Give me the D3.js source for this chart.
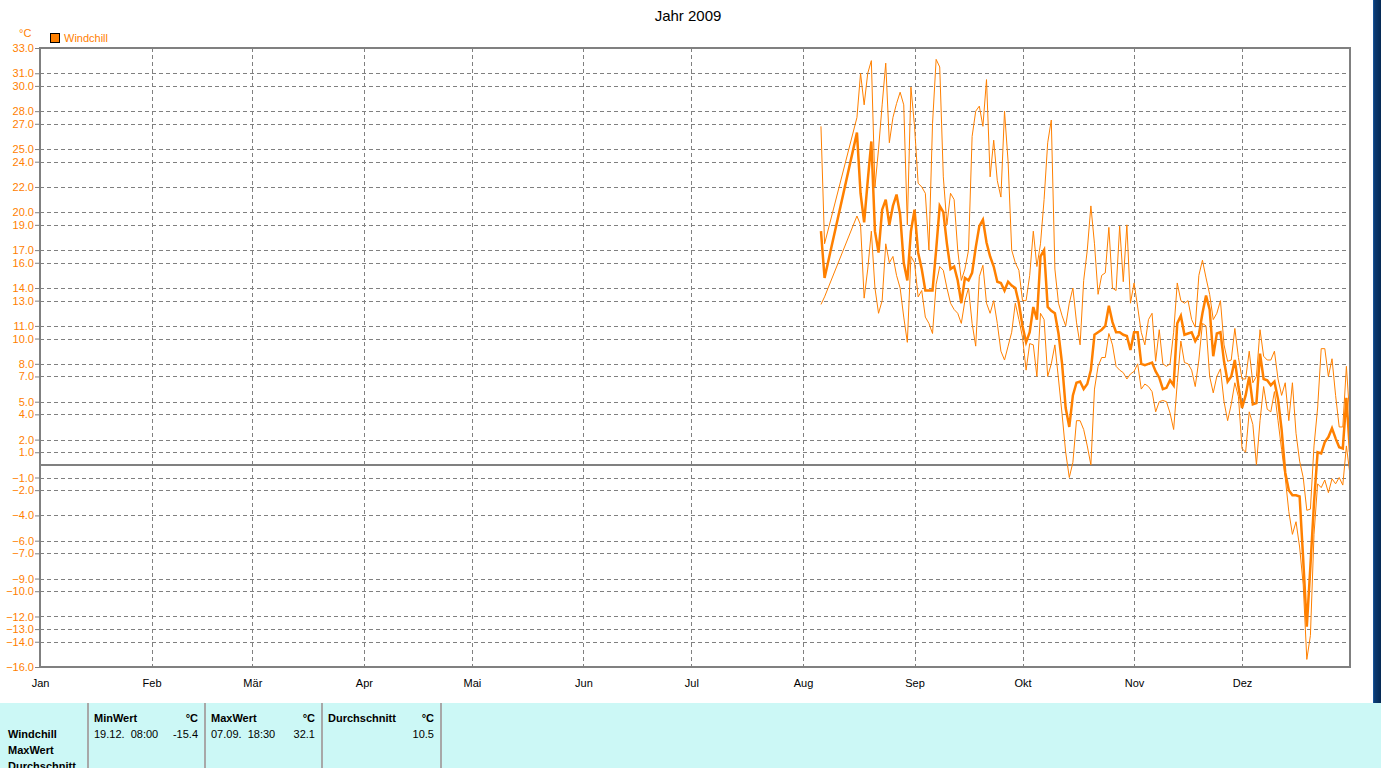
<!DOCTYPE html>
<html><head><meta charset="utf-8">
<script src="https://cdn.jsdelivr.net/npm/d3@7"></script>
<style>
html,body{margin:0;padding:0;background:#fff;}
svg{display:block;font-family:"Liberation Sans",Arial,sans-serif;}
</style></head>
<body>
<svg id="c" width="1381" height="768"></svg>
<script>
// ---------------- data ----------------
const title = "Jahr 2009";
const seriesName = "Windchill";
const unit = "°C";
const monthLabels = ["Jan","Feb","Mär","Apr","Mai","Jun","Jul","Aug","Sep","Okt","Nov","Dez"];
const yTickValues = [33,31,30,28,27,25,24,22,20,19,17,16,14,13,11,10,8,7,5,4,2,1,-1,-2,-4,-6,-7,-9,-10,-12,-13,-14,-16];

const dates = [
 "08-06","08-07","08-16","08-17","08-18","08-19","08-20","08-21","08-22","08-23","08-24","08-25","08-26","08-27","08-28","08-29","08-30","08-31",
 "09-01","09-02","09-03","09-04","09-05","09-06","09-07","09-08","09-09","09-10","09-11","09-12","09-13","09-14","09-15","09-16","09-17","09-18","09-19","09-20","09-21","09-22","09-23","09-24","09-25","09-26","09-27","09-28","09-29","09-30",
 "10-01","10-02","10-03","10-04","10-05","10-06","10-07","10-08","10-09","10-10","10-11","10-12","10-13","10-14","10-15","10-16","10-17","10-18","10-19","10-20","10-21","10-22","10-23","10-24","10-25","10-26","10-27","10-28","10-29","10-30","10-31",
 "11-01","11-02","11-03","11-04","11-05","11-06","11-07","11-08","11-09","11-10","11-11","11-12","11-13","11-14","11-15","11-16","11-17","11-18","11-19","11-20","11-21","11-22","11-23","11-24","11-25","11-26","11-27","11-28","11-29","11-30",
 "12-01","12-02","12-03","12-04","12-05","12-06","12-07","12-08","12-09","12-10","12-11","12-12","12-13","12-14","12-15","12-16","12-17","12-18","12-19","12-20","12-21","12-22","12-23","12-24","12-25","12-26","12-27","12-28","12-29","12-30","12-31"
];
const avgValues = [
 18.5,14.8,26.3,21.5,19.2,22.5,25.6,18.5,16.8,20.2,21.0,19.0,20.5,21.4,19.8,16.0,14.6,18.5,
 20.2,16.8,15.5,13.8,13.8,13.8,17.0,20.5,20.0,17.5,15.5,15.7,14.6,12.8,14.8,14.6,15.2,17.2,18.9,19.4,17.6,16.5,15.7,14.5,14.4,13.8,14.5,14.2,14.0,12.8,
 11.0,9.7,10.5,12.5,11.5,16.5,17.0,12.5,12.2,12.0,10.4,8.0,4.5,3.0,5.5,6.5,6.6,6.0,6.4,7.5,10.3,10.5,10.7,11.0,12.6,11.3,10.5,10.5,10.3,10.2,9.1,
 10.5,10.5,8.0,7.9,8.0,8.1,7.4,6.9,6.0,6.1,6.7,6.3,11.2,11.8,10.3,10.4,10.5,9.8,10.3,12.0,13.4,12.3,8.6,10.4,10.5,8.2,6.6,7.0,8.3,6.2,
 4.5,5.5,7.0,4.8,4.9,8.8,6.8,6.7,6.3,6.6,5.2,2.8,-0.6,-2.0,-2.4,-2.4,-2.5,-7.5,-12.8,-8.0,-3.0,1.0,0.9,1.8,2.2,2.9,2.1,1.4,1.3,5.3,1.0
];
const maxValues = [
 26.8,17.5,27.5,31.0,28.5,31.0,32.0,22.0,25.0,28.5,31.8,25.5,27.5,28.6,29.5,28.5,19.0,29.9,
 26.8,22.3,22.0,21.5,17.0,27.0,32.1,31.5,22.8,19.0,21.5,21.0,17.0,14.6,15.5,17.0,26.0,28.0,28.4,26.8,30.5,22.8,25.7,22.5,21.2,28.0,24.0,17.0,16.0,15.4,
 13.0,13.0,15.0,18.5,15.7,17.5,21.0,25.5,27.3,15.5,12.8,11.8,11.0,12.8,14.0,11.3,9.5,14.6,17.0,20.5,17.5,13.5,15.0,15.2,18.8,14.0,13.8,18.9,14.5,19.0,12.8,
 14.4,12.5,10.5,9.5,11.5,12.0,8.2,10.7,8.0,7.8,8.0,10.5,14.4,13.0,12.8,13.0,11.5,10.9,15.0,16.2,14.8,13.5,11.5,12.0,13.0,9.5,8.2,8.3,10.8,8.5,
 6.8,6.8,9.0,6.5,7.0,10.7,8.6,8.3,8.3,9.0,6.8,5.5,6.5,3.5,6.5,2.5,0.3,-1.0,-3.6,-3.5,1.5,4.5,9.2,9.2,7.0,8.4,5.5,3.0,3.0,7.8,3.5
];
const minValues = [
 12.7,13.3,19.7,19.0,13.2,15.5,18.5,14.0,12.0,13.0,17.5,16.0,16.5,15.0,14.0,11.7,9.7,16.5,
 16.0,13.3,13.8,11.7,11.2,10.4,14.3,15.7,15.4,14.0,12.8,12.3,12.0,11.2,13.0,14.0,11.2,9.4,14.9,15.8,12.8,12.0,13.0,11.2,9.0,8.3,9.4,10.5,12.8,11.5,
 10.1,7.5,9.6,9.5,7.0,12.0,11.5,7.0,8.0,9.5,6.8,4.0,1.0,-1.0,0.2,3.5,3.5,2.8,1.5,0.0,6.0,7.8,8.5,8.5,10.4,9.5,7.8,7.5,7.3,6.8,7.2,
 7.4,8.0,6.0,6.4,6.2,5.8,4.2,5.0,5.1,5.0,4.1,2.8,6.5,9.8,8.1,8.0,7.5,6.2,8.3,11.2,11.0,7.0,5.7,7.0,7.6,5.0,3.5,4.8,6.5,5.4,
 1.3,1.0,4.2,3.2,0.0,3.5,6.2,4.4,4.2,5.8,3.5,1.2,-1.0,-3.7,-5.5,-4.5,-6.5,-9.5,-15.4,-13.5,-5.5,-1.5,-1.8,-1.2,-2.2,-1.1,-1.5,-1.0,-1.6,1.5,-0.8
];
const statHeaders = ["MinWert","MaxWert","Durchschnitt"];
const statValues = [["19.12.  08:00","-15.4"],["07.09.  18:30","32.1"],["","10.5"]];
const rowLabels = ["Windchill","MaxWert","Durchschnitt"];

// ---------------- chart ----------------
const orange = "#ff8000", grid = "#808080";
const svg = d3.select("#c");
const L = 40, R = 1350, T = 48, B = 667;
const parse = d3.utcParse("%Y-%m-%d");
const x = d3.scaleUtc().domain([parse("2009-01-01"), parse("2009-12-31")]).range([L, R]);
const y = d3.scaleLinear().domain([-16, 33]).range([B, T]);

svg.append("text").attr("x", 688).attr("y", 21).attr("text-anchor", "middle")
  .attr("font-size", 15).attr("fill", "#000").text(title);

// gridlines horizontal
svg.append("g").selectAll("line").data(yTickValues.filter(v => v > -16 && v < 33)).join("line")
  .attr("x1", L).attr("x2", R).attr("y1", d => Math.round(y(d)) + 0.5).attr("y2", d => Math.round(y(d)) + 0.5)
  .attr("stroke", grid).attr("stroke-dasharray", "4,3");
// month gridlines
const monthDates = d3.utcMonths(parse("2009-01-01"), parse("2010-01-01"));
svg.append("g").selectAll("line").data(monthDates.slice(1)).join("line")
  .attr("x1", d => Math.round(x(d)) + 0.5).attr("x2", d => Math.round(x(d)) + 0.5)
  .attr("y1", T).attr("y2", B).attr("stroke", grid).attr("stroke-dasharray", "4,3");

// zero line
svg.append("line").attr("x1", L).attr("x2", R).attr("y1", y(0)).attr("y2", y(0))
  .attr("stroke", grid).attr("stroke-width", 2);

// y axis labels
const yAxis = d3.axisLeft(y).tickValues(yTickValues).tickFormat(d3.format(".1f")).tickSize(5).tickPadding(1);
const yg = svg.append("g").attr("transform", `translate(${L},0)`).call(yAxis);
yg.select(".domain").remove();
yg.selectAll(".tick line").attr("stroke", grid);
yg.selectAll(".tick text").attr("fill", orange).attr("font-size", 11).attr("font-family", "Liberation Sans, Arial, sans-serif");

// x axis labels
const xAxis = d3.axisBottom(x).tickValues(monthDates.slice(0, 12)).tickFormat((d, i) => monthLabels[i]).tickSize(0).tickPadding(12);
const xg = svg.append("g").attr("transform", `translate(0,${B})`).call(xAxis);
xg.select(".domain").remove();
xg.selectAll(".tick text").attr("fill", "#000").attr("font-size", 11).attr("font-family", "Liberation Sans, Arial, sans-serif");

// series
const pts = dates.map((d, i) => ({ t: parse("2009-" + d), avg: avgValues[i], max: maxValues[i], min: minValues[i] }));
const mk = key => d3.line().x(d => x(d.t)).y(d => y(d[key]));
svg.append("defs").append("clipPath").attr("id", "pc").append("rect")
  .attr("x", L).attr("y", T).attr("width", R - L).attr("height", B - T);
const gp = svg.append("g").attr("clip-path", "url(#pc)");
gp.append("path").datum(pts).attr("d", mk("max")).attr("fill", "none").attr("stroke", orange).attr("stroke-width", 1);
gp.append("path").datum(pts).attr("d", mk("min")).attr("fill", "none").attr("stroke", orange).attr("stroke-width", 1);
gp.append("path").datum(pts).attr("d", mk("avg")).attr("fill", "none").attr("stroke", orange).attr("stroke-width", 2.5);

// frame
svg.append("rect").attr("x", L).attr("y", T).attr("width", R - L).attr("height", B - T)
  .attr("fill", "none").attr("stroke", grid).attr("stroke-width", 2);

// unit & legend
svg.append("text").attr("x", 19).attr("y", 37).attr("font-size", 11).attr("fill", orange).text(unit);
svg.append("rect").attr("x", 50.5).attr("y", 33.5).attr("width", 9).attr("height", 9)
  .attr("fill", orange).attr("stroke", "#000");
svg.append("text").attr("x", 64).attr("y", 42).attr("font-size", 11).attr("fill", orange).text(seriesName);

// right window border
const gr = svg.append("defs").append("linearGradient").attr("id", "bg").attr("x1", 0).attr("x2", 1);
gr.append("stop").attr("offset", 0).attr("stop-color", "#1c5fa8");
gr.append("stop").attr("offset", 0.2).attr("stop-color", "#0b3a72");
gr.append("stop").attr("offset", 1).attr("stop-color", "#062a55");
svg.append("rect").attr("x", 1373).attr("y", 0).attr("width", 8).attr("height", 703).attr("fill", "url(#bg)");

// bottom stats panel
const py = 703;
svg.append("rect").attr("x", 0).attr("y", py).attr("width", 1381).attr("height", 768 - py).attr("fill", "#ccf8f6");
const seps = [88, 205, 322, 441];
svg.append("g").selectAll("line").data(seps).join("line")
  .attr("x1", d => d).attr("x2", d => d).attr("y1", py).attr("y2", 768)
  .attr("stroke", "#a8a8a8").attr("stroke-width", 2);
rowLabels.forEach((t, i) => svg.append("text").attr("x", 8).attr("y", 738 + i * 16)
  .attr("font-size", 11).attr("font-weight", "bold").attr("fill", "#000").text(t));
statHeaders.forEach((h, i) => {
  const x0 = seps[i] + 6, x1 = seps[i + 1] - 7;
  svg.append("text").attr("x", x0).attr("y", 722).attr("font-size", 11).attr("font-weight", "bold").text(h);
  svg.append("text").attr("x", x1).attr("y", 722).attr("font-size", 11).attr("font-weight", "bold").attr("text-anchor", "end").text(unit);
  svg.append("text").attr("x", x0).attr("y", 738).attr("font-size", 11).attr("xml:space", "preserve").style("white-space", "pre").text(statValues[i][0]);
  svg.append("text").attr("x", x1).attr("y", 738).attr("font-size", 11).attr("text-anchor", "end").text(statValues[i][1]);
});
</script>
</body></html>
